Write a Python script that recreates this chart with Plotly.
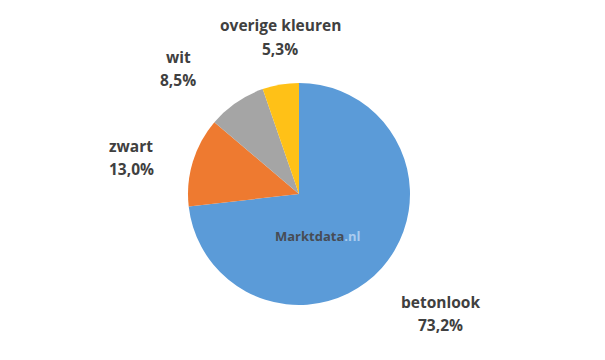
import plotly.graph_objects as go

labels = ["betonlook", "zwart", "wit", "overige kleuren"]
values = [73.2, 13.0, 8.5, 5.3]
value_text = ["73,2%", "13,0%", "8,5%", "5,3%"]
colors = ["#5b9bd8", "#ee7a30", "#a5a5a5", "#ffc117"]

W, H = 605, 360
OFF = 8  # browser body margin compensation
cx, cy, r = 299 - OFF, 194 - OFF, 111

fig = go.Figure(go.Pie(
    labels=labels, values=values, sort=False, direction="clockwise", rotation=0,
    marker=dict(colors=colors, line=dict(width=0)),
    textinfo="none", hoverinfo="label+percent", showlegend=False,
    domain=dict(x=[(cx - r) / W, (cx + r) / W], y=[(H - cy - r) / H, (H - cy + r) / H]),
))

# label positions (pixels): x center, y of first line, y of second line
label_pos = [(440, 302, 325), (131, 146, 169), (178, 57, 80), (280, 25, 49)]
font = dict(family="Open Sans, Liberation Sans, sans-serif", size=15.5, color="#404040")
annotations = []
for lab, vt, (px, py1, py2) in zip(labels, value_text, label_pos):
    for txt, py in ((lab, py1), (vt, py2)):
        annotations.append(dict(
            x=(px - OFF) / W, y=1 - (py - OFF) / H, xref="paper", yref="paper",
            xanchor="center", yanchor="middle",
            showarrow=False, text=f"<b>{txt}</b>", font=font,
        ))
annotations.append(dict(
    x=(318 - OFF) / W, y=1 - (236 - OFF) / H, xref="paper", yref="paper", showarrow=False,
    xanchor="center", yanchor="middle",
    text="<b>Marktdata</b><span style='color:#a9cbef'><b>.nl</b></span>",
    font=dict(family="Open Sans, sans-serif", size=13, color="#474c55"),
))

fig.update_layout(
    width=W, height=H, margin=dict(l=0, r=0, t=0, b=0),
    paper_bgcolor="white", plot_bgcolor="white", annotations=annotations,
)
fig.write_html("out.html")
